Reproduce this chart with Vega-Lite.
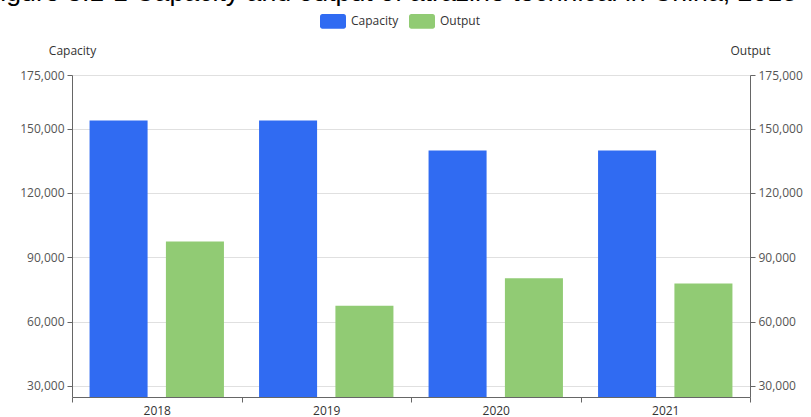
{
  "$schema": "https://vega.github.io/schema/vega-lite/v6.json",
  "width": 678,
  "height": 322,
  "autosize": {"type": "none"},
  "padding": {"left": 72, "top": 75, "right": 61, "bottom": 20},
  "background": "white",
  "title": {
    "text": "Figure 3.1-1 Capacity and output of atrazine technical in China, 2018",
    "anchor": "start",
    "frame": "group",
    "dx": -88,
    "dy": 26,
    "font": "Liberation Sans",
    "fontSize": 26.7,
    "fontWeight": "normal",
    "color": "#000000",
    "baseline": "alphabetic",
    "offset": 6
  },
  "data": {
    "values": [
      {"year": "2018", "series": "Capacity", "value": 153800},
      {"year": "2019", "series": "Capacity", "value": 153800},
      {"year": "2020", "series": "Capacity", "value": 139800},
      {"year": "2021", "series": "Capacity", "value": 139800},
      {"year": "2018", "series": "Output", "value": 97300},
      {"year": "2019", "series": "Output", "value": 67400},
      {"year": "2020", "series": "Output", "value": 80200},
      {"year": "2021", "series": "Output", "value": 77700}
    ]
  },
  "config": {
    "view": {"stroke": null},
    "axis": {"labelFont": "Open Sans", "titleFont": "Open Sans"}
  },
  "layer": [
    {
      "mark": {"type": "bar", "clip": true},
      "encoding": {
        "x": {
          "field": "year", "type": "nominal",
          "scale": {"paddingInner": 0, "paddingOuter": 0},
          "axis": {
            "title": null, "labelAngle": 0, "tickBand": "extent",
            "domainColor": "#666666", "tickColor": "#666666", "tickSize": 5,
            "labelColor": "#333333", "labelFontSize": 12, "labelPadding": 3,
            "grid": false
          }
        },
        "xOffset": {
          "field": "series", "type": "nominal",
          "scale": {"paddingInner": 0.24, "paddingOuter": 0.23}
        },
        "y": {
          "field": "value", "type": "quantitative",
          "scale": {"domain": [24800, 175000], "nice": false, "zero": false},
          "axis": {
            "orient": "left",
            "values": [30000, 60000, 90000, 120000, 150000, 175000],
            "format": ",d",
            "title": "Capacity",
            "titleAngle": 0, "titleX": 0, "titleY": -25,
            "titleAlign": "center", "titleBaseline": "middle",
            "titleFontSize": 12, "titleFontWeight": "normal", "titleColor": "#333333",
            "labelColor": "#555555", "labelFontSize": 12, "labelPadding": 3,
            "domainColor": "#666666", "tickColor": "#666666", "tickSize": 5,
            "gridColor": "#e0e0e0", "grid": true
          }
        },
        "color": {
          "field": "series", "type": "nominal",
          "scale": {"domain": ["Capacity", "Output"], "range": ["#306BF2", "#91CB74"]},
          "legend": {
            "title": null,
            "orient": "none",
            "direction": "horizontal",
            "legendX": 248,
            "legendY": -67,
            "symbolType": "M-0.82,-0.56 H0.82 A0.18,0.18 0 0 1 1,-0.38 V0.38 A0.18,0.18 0 0 1 0.82,0.56 H-0.82 A0.18,0.18 0 0 1 -1,0.38 V-0.38 A0.18,0.18 0 0 1 -0.82,-0.56 Z",
            "symbolSize": 676,
            "symbolStrokeWidth": 0,
            "symbolOpacity": 1,
            "labelFont": "Open Sans",
            "labelFontSize": 12,
            "labelColor": "#333333",
            "columnPadding": 10,
            "labelOffset": 5
          }
        }
      }
    },
    {
      "mark": {"type": "bar", "opacity": 0, "clip": true},
      "encoding": {
        "x": {"field": "year", "type": "nominal"},
        "xOffset": {"field": "series", "type": "nominal"},
        "y": {
          "field": "value", "type": "quantitative",
          "scale": {"domain": [24800, 175000], "nice": false, "zero": false},
          "axis": {
            "orient": "right",
            "values": [30000, 60000, 90000, 120000, 150000, 175000],
            "format": ",d",
            "title": "Output",
            "titleAngle": 0, "titleX": 0, "titleY": -25,
            "titleAlign": "center", "titleBaseline": "middle",
            "titleFontSize": 12, "titleFontWeight": "normal", "titleColor": "#333333",
            "labelColor": "#555555", "labelFontSize": 12, "labelPadding": 3,
            "domainColor": "#666666", "tickColor": "#666666", "tickSize": 5,
            "grid": false
          }
        }
      }
    }
  ],
  "resolve": {"scale": {"y": "independent"}}
}
